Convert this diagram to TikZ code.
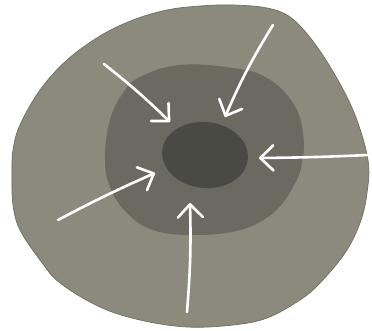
\documentclass[tikz,border=0pt]{standalone}
\usetikzlibrary{arrows.meta}
\definecolor{outerc}{RGB}{139,138,124}
\definecolor{edgec}{RGB}{112,111,101}
\definecolor{midc}{RGB}{107,106,97}
\definecolor{innerc}{RGB}{74,74,68}
\tikzset{
  push/.style={draw=white, line width=2.6pt, line cap=round, line join=round,
    -{Straight Barb[length=13pt,width=25pt,line width=2.6pt,round]}},
}
\begin{document}
\begin{tikzpicture}[x=1pt,y=-1pt]
\useasboundingbox (0,0) rectangle (372,331);
% outer blob
\draw[fill=outerc, draw=edgec, line width=0.7pt] plot[smooth cycle, tension=0.6] coordinates {
 (12,175) (13,150) (20,125) (40,90) (67,60) (100,36) (133,20) (167,10) (200,6)
 (233,5) (267,8) (290,17) (312,40) (335,75) (355,115) (368,160) (367,193)
 (360,223) (345,253) (320,283) (300,300) (267,318) (233,325) (187,327)
 (140,320) (100,307) (60,283) (40,260) (20,230) (13,205)};
% middle zone
\fill[midc] plot[smooth cycle, tension=0.7] coordinates {
 (140,77) (180,65) (233,68) (267,78) (293,103) (303,133) (302,163) (293,187)
 (273,213) (240,230) (193,235) (153,230) (127,213) (110,187) (105,157)
 (110,120) (123,93)};
% core
\fill[innerc, rotate around={-6:(205,155)}] (205,155) ellipse [x radius=43, y radius=33];
% arrows
\coordinate (t1) at (104,64);  \coordinate (h1) at (170,122);
\coordinate (t2) at (273,25);  \coordinate (h2) at (225,117);
\coordinate (t3) at (368,155); \coordinate (h3) at (259,158);
\coordinate (t4) at (58,220);  \coordinate (h4) at (155,173);
\coordinate (t5) at (187,312); \coordinate (h5) at (190,203);
\draw[push] (t1) to[bend left=3] (h1);
\draw[push] (t2) to[bend right=4] (h2);
\draw[push] (t3) to[bend left=1] (h3);
\draw[push] (t4) to[bend left=2] (h4);
\draw[push] (t5) to[bend right=3] (h5);
\end{tikzpicture}
\end{document}
